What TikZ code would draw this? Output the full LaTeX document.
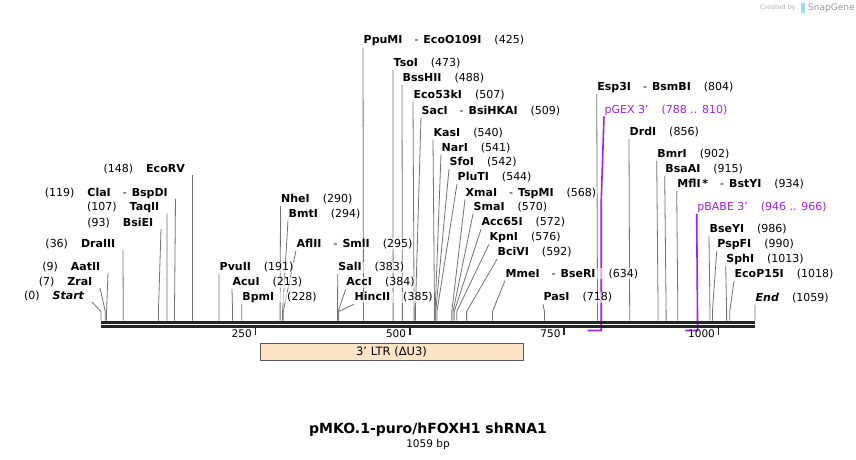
\documentclass[tikz,border=0pt]{standalone}
\usepackage{fontspec}
\setmainfont{DejaVu Sans}
\usepackage{tikz}
\usetikzlibrary{backgrounds}

\definecolor{primer}{RGB}{160,32,240}
\definecolor{ltrfill}{RGB}{254,228,198}
\newcommand{\enz}[1]{\textbf{#1}}
\newcommand{\enzdash}{\hspace{12pt}-\hspace{5pt}}
\newcommand{\posgap}{\hspace{13pt}}

\tikzset{
  enzlbl/.style={inner sep=0.5pt, fill=white, fill opacity=0.6, text opacity=1,
                 font=\fontsize{11}{13}\selectfont},
  cut/.style={draw=black!55, line width=0.8pt},
  backbone/.style={draw=black!85, line width=3.2pt},
  tick/.style={draw=black!85, line width=1.7pt},
  primerline/.style={draw=primer, line width=1.6pt},
}

\begin{document}
\begin{tikzpicture}[x=1pt, y=-1pt]
  \begin{pgfonlayer}{background}
    \fill[white] (0,0) rectangle (856,460);
  \end{pgfonlayer}
  \useasboundingbox (0,0) rectangle (856,460);

  % enzymes named to the right of their cut
  \foreach \id/\txt/\bp/\lx/\ly in {
    ppu/{\enz{PpuMI}\enzdash\enz{EcoO109I}}/425/363/44,
    tso/{\enz{TsoI}}/473/393/66.7,
    bss/{\enz{BssHII}}/488/402/81.7,
    ecok/{\enz{Eco53kI}}/507/413/98,
    sac/{\enz{SacI}\enzdash\enz{BsiHKAI}}/509/421/114,
    kas/{\enz{KasI}}/540/433/136,
    nar/{\enz{NarI}}/541/441/151,
    sfo/{\enz{SfoI}}/542/449/165.5,
    plu/{\enz{PluTI}}/544/457/180.5,
    xma/{\enz{XmaI}\enzdash\enz{TspMI}}/568/465/196,
    sma/{\enz{SmaI}}/570/473/210.5,
    acs/{\enz{Acc65I}}/572/481/225.7,
    kpn/{\enz{KpnI}}/576/489/240.7,
    bci/{\enz{BciVI}}/592/497/255.7,
    mme/{\enz{MmeI}\enzdash\enz{BseRI}}/634/505/277,
    pas/{\enz{PasI}}/718/543/300.7,
    nhe/{\enz{NheI}}/290/280.5/202.7,
    bmt/{\enz{BmtI}}/294/288/217,
    afl/{\enz{AflII}\enzdash\enz{SmlI}}/295/296/247,
    pvu/{\enz{PvuII}}/191/219/270.7,
    acu/{\enz{AcuI}}/213/232/285.7,
    bpm/{\enz{BpmI}}/228/241.7/300.7,
    sal/{\enz{SalI}}/383/337.7/270.7,
    acc/{\enz{AccI}}/384/345.7/285.7,
    hinc/{\enz{HincII}}/385/354/300.7,
    esp/{\enz{Esp3I}\enzdash\enz{BsmBI}}/804/596.7/90.7,
    drd/{\enz{DrdI}}/856/629/135.7,
    bmr/{\enz{BmrI}}/902/656.7/157.3,
    bsaa/{\enz{BsaAI}}/915/664.7/172.7,
    mfl/{\enz{MflI}\,\enz{*}\enzdash\enz{BstYI}}/934/676.7/187.7,
    bsey/{\enz{BseYI}}/986/709/232.7,
    pspf/{\enz{PspFI}}/990/716.7/247.7,
    sph/{\enz{SphI}}/1013/725.7/262.7,
    ecop/{\enz{EcoP15I}}/1018/734/277.7,
    endm/{\enz{\itshape End}}/1059/755/301}
  {
    \node[enzlbl, anchor=base west] (\id) at (\lx,\ly) {\txt\posgap(\bp)};
    \begin{pgfonlayer}{background}
      \draw[cut] ({101+\bp*0.6176},320.5) -- ++(0,-9) -- ([yshift=-3.5pt]\id.base west);
    \end{pgfonlayer}
  }

  % enzymes named to the left of their cut
  \foreach \id/\txt/\bp/\rx/\ly in {
    ecorv/{\enz{EcoRV}}/148/185.5/172,
    cla/{\enz{ClaI}\enzdash\enz{BspDI}}/119/168.5/196,
    taq/{\enz{TaqII}}/107/160/210.5,
    bsie/{\enz{BsiEI}}/93/154/226,
    dra/{\enz{DraIII}}/36/116/247,
    aat/{\enz{AatII}}/9/101/270,
    zra/{\enz{ZraI}}/7/93/285,
    startm/{\enz{\itshape Start}}/0/85/299}
  {
    \node[enzlbl, anchor=base east] (\id) at (\rx,\ly) {(\bp)\posgap\txt};
    \begin{pgfonlayer}{background}
      \draw[cut] ({101+\bp*0.6176},320.5) -- ++(0,-9) -- ([xshift=7pt,yshift=-3pt]\id.base east);
    \end{pgfonlayer}
  }

  % primers
  \node[enzlbl, anchor=base west, text=primer] (pgex) at (604,113.3) {pGEX 3'\posgap(788 .. 810)};
  \node[enzlbl, anchor=base west, text=primer] (pbabe) at (696.7,210.7) {pBABE 3'\posgap(946 .. 966)};
  \coordinate (pgexa) at ({101+788*0.6176},330.5);
  \coordinate (pgexb) at ({101+810*0.6176},330.5);
  \coordinate (pbabea) at ({101+946*0.6176},330.5);
  \coordinate (pbabeb) at ({101+966*0.6176},330.5);
  \begin{pgfonlayer}{background}
    \draw[primerline] (pgexa) -- (pgexb) -- ++(0,-130) -- ([yshift=-3pt]pgex.base west);
    \draw[primerline] (pbabea) -- (pbabeb) -- ([yshift=-3pt]pbabe.base west);
  \end{pgfonlayer}

  % sequence
  \coordinate (seqa) at (101,322.3);
  \coordinate (seqb) at (755,322.3);
  \draw[backbone] (seqa) -- (seqb);
  \draw[backbone] ([yshift=-4.4pt]seqa) -- ([yshift=-4.4pt]seqb);

  \foreach \t in {250,500,750,1000}{
    \draw[tick] ({101+\t*0.6176},328) -- ++(0,6.5);
    \node[inner sep=0pt, font=\fontsize{10.5}{12}\selectfont, anchor=base east] (tick\t) at ({101+\t*0.6176-3.5},337.5) {\t};
  }

  % features
  \node[draw=black!65, fill=ltrfill, line width=0.8pt, minimum width=263pt, minimum height=17pt,
        inner sep=0pt, font=\fontsize{11.5}{13}\selectfont] (ltr) at (391.5,351.5) {3' LTR (ΔU3)};

  \node[font=\fontsize{14}{16}\selectfont\bfseries, anchor=base] (title) at (428,433.3) {pMKO.1-puro/hFOXH1 shRNA1};
  \node[inner sep=0pt, font=\fontsize{10.5}{12}\selectfont, anchor=base] (size) at (428,447.3) {1059 bp};

  \node[anchor=base east, inner sep=0pt, text=black!30, font=\fontsize{6.5}{8}\selectfont] (made) at (796,10) {Created by};
  \fill[cyan!40] (801,3) rectangle (805,13);
  \node[anchor=base west, inner sep=0pt, text=black!40, font=\fontsize{9}{10}\selectfont] (sg) at (808,10.5) {SnapGene};
\end{tikzpicture}
\end{document}
